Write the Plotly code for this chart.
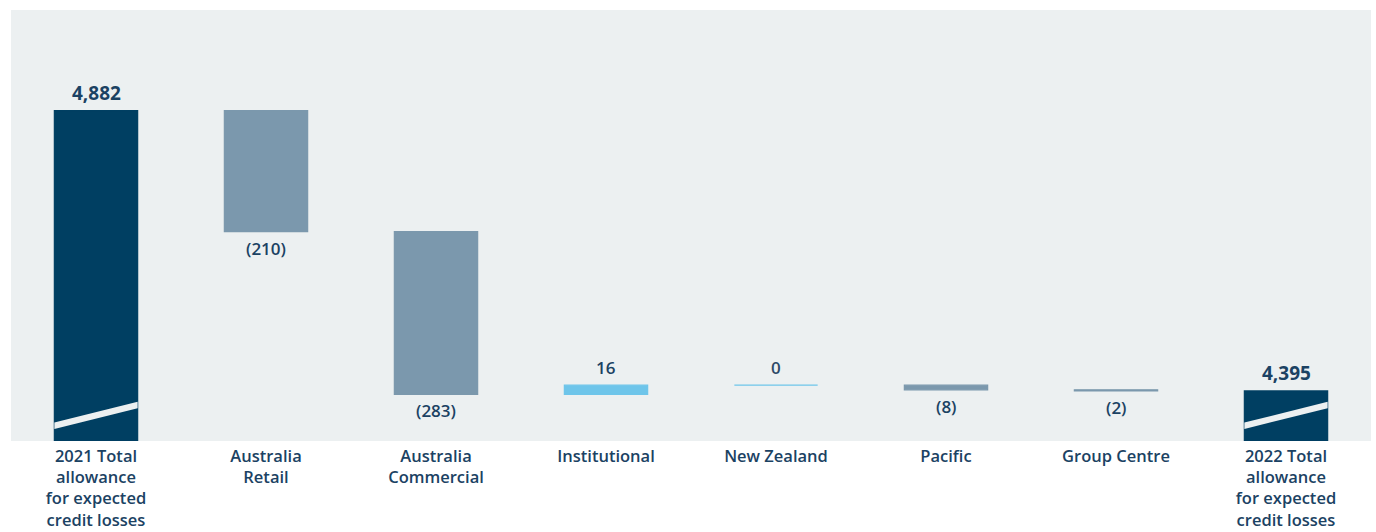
import plotly.graph_objects as go

categories = ["2021 Total<br>allowance<br>for expected<br>credit losses", "Australia<br>Retail",
              "Australia<br>Commercial", "Institutional", "New Zealand", "Pacific",
              "Group Centre", "2022 Total<br>allowance<br>for expected<br>credit losses"]
values = [4882, -210, -283, 16, 0, -8, -2, 4395]
measures = ["total", "relative", "relative", "relative", "relative", "relative", "relative", "total"]
labels = ["4,882", "(210)", "(283)", "16", "0", "(8)", "(2)", "4,395"]

AXIS_MIN = 4308
AXIS_MAX = 5057
NAVY = "#003F62"
GREY = "#7B98AD"
LIGHT = "#6EC5EA"
TEXT = "#1B4263"
BG = "#ECF0F1"
FONT = "Open Sans"

bases, heights, colors = [], [], []
running = 0
for v, m in zip(values, measures):
    if m == "total":
        bases.append(AXIS_MIN)
        heights.append(v - AXIS_MIN)
        running = v
        colors.append(NAVY)
    else:
        lo = min(running, running + v)
        bases.append(lo)
        heights.append(abs(v))
        running += v
        colors.append(LIGHT if v >= 0 else GREY)

x = list(range(len(categories)))
BW = 0.49

fig = go.Figure()
fig.add_trace(go.Bar(
    x=x, y=heights, base=bases, width=BW,
    marker=dict(color=colors, line=dict(color=colors, width=1.2)),
    hoverinfo="skip", showlegend=False,
))

annotations = []
for i, (v, m, lab) in enumerate(zip(values, measures, labels)):
    top = bases[i] + heights[i]
    if m == "total":
        annotations.append(dict(x=i, y=top, text=lab, yanchor="bottom",
                                yshift=3, showarrow=False,
                                font=dict(size=19, color=TEXT, family=FONT, weight=700)))
    elif v < 0:
        annotations.append(dict(x=i, y=bases[i], text=lab, yanchor="top",
                                yshift=-3, showarrow=False,
                                font=dict(size=17, color=TEXT, family=FONT, weight=600)))
    else:
        annotations.append(dict(x=i, y=top, text=lab, yanchor="bottom",
                                yshift=4, showarrow=False,
                                font=dict(size=17, color="#2E4A68" if v == 0 else TEXT,
                                          family=FONT, weight=600)))

# break marks on total bars (diagonal band in background colour)
shapes = []
for i, m in enumerate(measures):
    if m == "total":
        x0, x1 = i - BW / 2, i + BW / 2
        yl, yr = AXIS_MIN + 21, AXIS_MIN + 57
        th = 11
        shapes.append(dict(type="path", xref="x", yref="y",
                           path=f"M {x0} {yl} L {x1} {yr} L {x1} {yr + th} L {x0} {yl + th} Z",
                           fillcolor=BG, line=dict(width=0)))

fig.update_layout(
    width=1376, height=532,
    margin=dict(l=11, r=5, t=10, b=91),
    paper_bgcolor="white", plot_bgcolor=BG,
    font=dict(family=FONT, color=TEXT),
    annotations=annotations, shapes=shapes,
    xaxis=dict(tickmode="array", tickvals=x, ticktext=categories, range=[-0.5, 7.5],
               showgrid=False, zeroline=False, showline=False, ticks="",
               ticklabelstandoff=3, automargin=False,
               tickfont=dict(size=16.5, color=TEXT, family=FONT, weight=600)),
    yaxis=dict(range=[AXIS_MIN, AXIS_MAX], showgrid=False, zeroline=False,
               showticklabels=False, showline=False, automargin=False),
    bargap=0.5,
)

fig.write_html("out.html", config={"displayModeBar": False},
               post_script="document.body.style.margin='0';document.body.style.overflow='hidden';")
